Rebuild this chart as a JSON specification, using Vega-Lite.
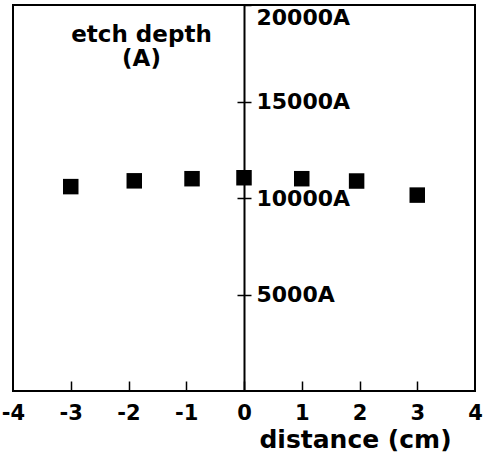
{
  "$schema": "https://vega.github.io/schema/vega-lite/v6.json",
  "autosize": {"type": "none"},
  "padding": {"left": 13, "top": 5, "right": 15, "bottom": 70},
  "width": 462,
  "height": 386,
  "background": "white",
  "config": {
    "view": {"stroke": "black", "strokeWidth": 2},
    "axis": {"labelFont": "DejaVu Sans", "labelFontWeight": "bold", "labelColor": "black", "titleFont": "DejaVu Sans", "titleFontWeight": "bold", "titleColor": "black", "grid": false, "domainColor": "black", "tickColor": "black"}
  },
  "data": {"values": [
    {"distance": -3, "depth": 10590},
    {"distance": -1.9, "depth": 10890},
    {"distance": -0.9, "depth": 11000},
    {"distance": 0, "depth": 11050},
    {"distance": 1, "depth": 11000},
    {"distance": 1.95, "depth": 10880},
    {"distance": 3, "depth": 10150}
  ]},
  "resolve": {"axis": {"y": "independent", "x": "independent"}},
  "layer": [
    {
      "mark": {"type": "point", "shape": "square", "filled": true, "color": "black", "opacity": 1, "size": 240},
      "encoding": {
        "x": {"field": "distance", "type": "quantitative", "scale": {"domain": [-4, 4], "nice": false},
          "axis": {"orient": "bottom", "values": [-4, -3, -2, -1, 0, 1, 2, 3, 4], "ticks": false, "domain": false, "labelFontSize": 21, "labelPadding": 11, "labelFlush": false,
            "labelExpr": "replace(datum.label, '−', '-')",
            "title": "distance (cm)", "titleFontSize": 25, "titleX": 342, "titleY": 56, "titleAnchor": null, "titleAlign": "center", "titleBaseline": "alphabetic"}},
        "y": {"field": "depth", "type": "quantitative", "scale": {"domain": [0, 20000], "nice": false},
          "axis": {"orient": "right", "offset": -231, "values": [5000, 10000, 15000, 20000], "tickSize": 7, "tickWidth": 1.5, "domainWidth": 2, "labelFontSize": 22, "labelPadding": 5, "labelFlush": true, "labelFlushOffset": -2,
            "labelExpr": "datum.value + 'A'", "title": null}}
      }
    },
    {
      "mark": {"type": "point", "opacity": 0},
      "encoding": {
        "x": {"field": "distance", "type": "quantitative", "scale": {"domain": [-4, 4], "nice": false},
          "axis": {"orient": "top", "offset": -386, "values": [-3, -2, -1, 0, 1, 2, 3], "ticks": true, "tickSize": 10, "tickWidth": 1.5, "domain": false, "labels": false, "title": null, "zindex": 2}},
        "y": {"field": "depth", "type": "quantitative", "scale": {"domain": [0, 20000], "nice": false},
          "axis": {"orient": "left", "offset": -231, "values": [5000, 10000, 15000], "tickSize": 7, "tickWidth": 1.5, "domain": false, "labels": false,
            "title": ["etch depth", "(A)"], "titleFontSize": 23, "titleAngle": 0, "titleX": -103, "titleY": 36, "titleAlign": "center", "titleBaseline": "alphabetic", "titleLineHeight": 24}}
      }
    }
  ]
}
